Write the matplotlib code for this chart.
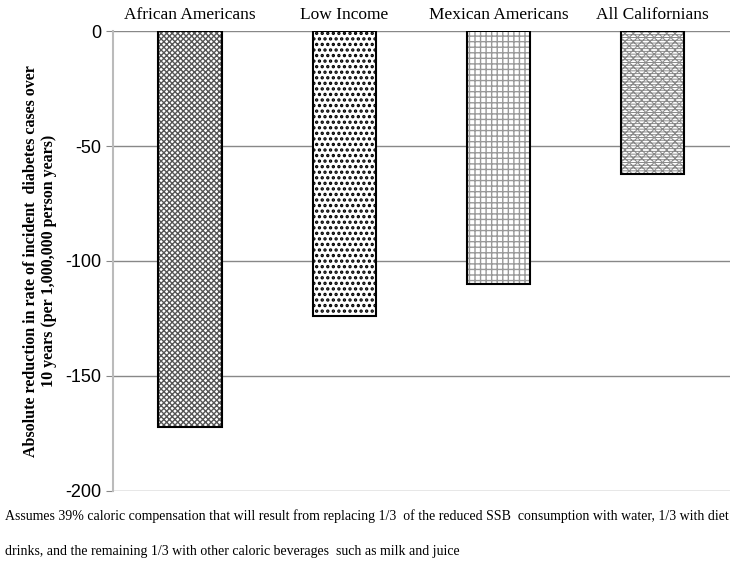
import matplotlib
matplotlib.use('Agg')
import matplotlib.pyplot as plt

# data
groups = ['African Americans', 'Low Income', 'Mexican Americans', 'All Californians']
reduction = [-172, -124, -110, -62]
hatches = ['xxxxxx', '...', '+++', '------xxxx']
hatch_colors = ['#555555', 'black', '#999999', '#8a8a8a']
hatch_widths = [1.0, 1.6, 1.0, 0.7]

serif = ['Liberation Serif', 'DejaVu Serif']

fig = plt.figure(figsize=(7.47, 5.82), dpi=100)
ax = fig.add_axes([0.151, 0.1564, 0.826, 0.7903])

x = range(len(groups))
for i in x:
    with plt.rc_context({'hatch.linewidth': hatch_widths[i]}):
        ax.bar(i, reduction[i], width=0.41, color='white', edgecolor=hatch_colors[i],
               hatch=hatches[i], linewidth=0, zorder=2)
    ax.bar(i, reduction[i], width=0.41, fill=False, edgecolor='black',
           linewidth=1.5, zorder=3)

ax.set_xlim(-0.5, 3.5)
ax.set_ylim(-200, 0)
ax.set_yticks([0, -50, -100, -150, -200])
ax.set_yticklabels(['0', '-50', '-100', '-150', '-200'], fontsize=13,
                   family=['Liberation Sans', 'DejaVu Sans'])
ax.yaxis.grid(True, color='#888888', linewidth=1)
ax.set_axisbelow(True)

ax.xaxis.tick_top()
ax.set_xticks(list(x))
ax.set_xticklabels(groups, fontsize=12.5, family=serif)
ax.tick_params(axis='x', length=0, pad=6)
ax.tick_params(axis='y', length=5, color='#888888', pad=3)

for s in ['top', 'right', 'bottom']:
    ax.spines[s].set_visible(False)
ax.spines['left'].set_color('#bbbbbb')
ax.spines['left'].set_linewidth(1.5)

ax.set_ylabel('Absolute reduction in rate of incident  diabetes cases over\n'
              '10 years (per 1,000,000 person years)',
              fontsize=11.5, fontweight='bold', family=serif, labelpad=6,
              linespacing=1.2)

fig.text(0.007, 0.113, 'Assumes 39% caloric compensation that will result from replacing 1/3  of the '
         'reduced SSB  consumption with water, 1/3 with diet', fontsize=10, family=serif,
         va='center')
fig.text(0.007, 0.053, 'drinks, and the remaining 1/3 with other caloric beverages  such as milk and juice',
         fontsize=10, family=serif, va='center')

fig.savefig('out.png', dpi=100)
